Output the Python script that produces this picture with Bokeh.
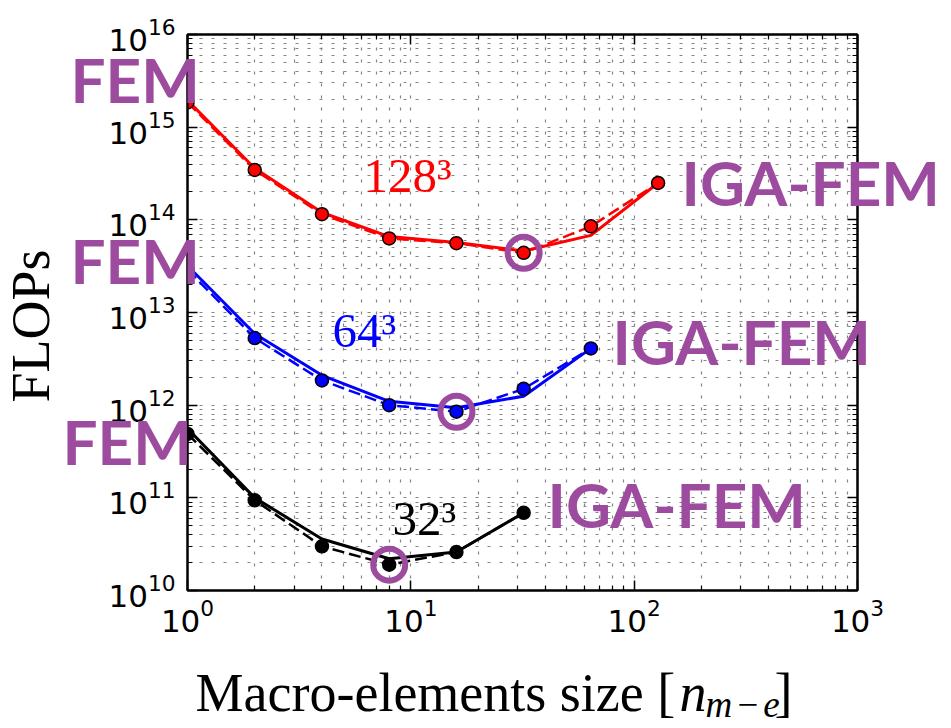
import math
from bokeh.plotting import figure
from bokeh.models import Label, LogAxis, FixedTicker, ColumnDataSource, Range1d, GridBox
from bokeh.embed import file_html
from bokeh.resources import INLINE

# ---------------- data ----------------
n_red = [1, 2, 4, 8, 16, 32, 64, 128]
red_solid = [1.95e15, 3.6e14, 1.2e14, 6.6e13, 5.7e13, 4.6e13, 6.8e13, 2.5e14]
red_dashed = [1.85e15, 3.45e14, 1.15e14, 6.3e13, 5.6e13, 4.4e13, 8.5e13, 2.5e14]

n_blue = [1, 2, 4, 8, 16, 32, 64]
blue_solid = [3.2e13, 5.9e12, 2.1e12, 1.1e12, 9.4e11, 1.25e12, 4.1e12]
blue_dashed = [2.9e13, 5.3e12, 1.85e12, 1.0e12, 8.5e11, 1.5e12, 4.1e12]

n_black = [1, 2, 4, 8, 16, 32]
black_solid = [5.6e11, 1.0e11, 3.6e10, 2.2e10, 2.6e10, 6.9e10]
black_dashed = [4.9e11, 9.4e10, 3.0e10, 1.9e10, 2.6e10, 6.9e10]

# optimum (circled) points
opt_n = [32, 16, 8]
opt_flops = [4.4e13, 8.5e11, 1.9e10]

curve_labels = ["128³", "64³", "32³"]
left_labels = ["FEM", "FEM", "FEM"]
right_labels = ["IGA-FEM", "IGA-FEM", "IGA-FEM"]

x_major = [1, 10, 100, 1000]
x_minor = [k * 10 ** e for e in range(0, 3) for k in range(2, 10)]
y_major = [1e10, 1e11, 1e12, 1e13, 1e14, 1e15, 1e16]
y_minor = [k * 10.0 ** e for e in range(10, 16) for k in range(2, 10)]

# ---------------- styling ----------------
PURPLE = "#9d4b9f"
SERIF = "Liberation Serif"
W, H = 943, 726
FL, FT = 187, 34           # frame left / top in canvas px
FW, FH = 670, 556          # frame size

p = figure(width=W, height=H, x_axis_type="log", y_axis_type="log",
           x_range=(1, 1000), y_range=(1e10, 1e16),
           output_backend="svg", toolbar_location=None,
           min_border_left=FL, min_border_top=FT,
           min_border_right=W - FL - FW, min_border_bottom=H - FT - FH)
p.background_fill_color = "white"
p.border_fill_color = "white"
p.outline_line_color = "black"
p.outline_line_width = 2

xt = FixedTicker(ticks=x_major, minor_ticks=x_minor)
yt = FixedTicker(ticks=y_major, minor_ticks=y_minor)

def style_axis(ax, ticker, labels=True):
    ax.ticker = ticker
    ax.axis_line_width = 2
    ax.axis_line_color = "black"
    ax.major_tick_in = 10
    ax.major_tick_out = 0
    ax.minor_tick_in = 5
    ax.minor_tick_out = 0
    ax.major_tick_line_width = 1.5
    ax.minor_tick_line_width = 1.2
    if labels:
        ax.major_label_text_font = "DejaVu Sans"
        ax.major_label_text_font_size = "31px"
        ax.major_label_text_color = "black"
    else:
        ax.major_label_text_font_size = "0px"
        ax.major_label_text_color = None

bottom = p.below[0]
left = p.left[0]
style_axis(bottom, xt)
style_axis(left, yt)
bottom.major_label_standoff = 8
left.major_label_standoff = 12

top = LogAxis()
right = LogAxis()
style_axis(top, xt, labels=False)
style_axis(right, yt, labels=False)
p.add_layout(top, "above")
p.add_layout(right, "right")

for g, t in ((p.xgrid[0], xt), (p.ygrid[0], yt)):
    g.ticker = t
    g.grid_line_color = "#858585"
    g.grid_line_dash = "3 9"
    g.grid_line_width = 1.2
    g.minor_grid_line_color = "#858585"
    g.minor_grid_line_dash = "3 9"
    g.minor_grid_line_width = 1.2

# ---------------- curves ----------------
series = [
    (n_red, red_solid, red_dashed, "red"),
    (n_blue, blue_solid, blue_dashed, "blue"),
    (n_black, black_solid, black_dashed, "black"),
]
for n, solid, dashed, col in series:
    src = ColumnDataSource(dict(n=n, solid=solid, dashed=dashed))
    p.line("n", "dashed", source=src, line_color=col, line_width=2.5, line_dash="12 5")
    p.line("n", "solid", source=src, line_color=col, line_width=3)
    p.scatter("n", "dashed", source=src, size=13, fill_color=col,
              line_color="black", line_width=1.5)

p.scatter(opt_n, opt_flops, size=32, fill_color=None,
          line_color=PURPLE, line_width=6)

# ---------------- transparent overlay for texts outside the frame ----------------
ov = figure(width=W, height=H, x_range=Range1d(0, W), y_range=Range1d(H, 0),
            output_backend="svg", toolbar_location=None,
            x_axis_location=None, y_axis_location=None,
            min_border_left=0, min_border_right=0, min_border_top=0, min_border_bottom=0)
ov.background_fill_color = None
ov.border_fill_color = None
ov.outline_line_color = None
ov.grid.visible = False
for fig in (p, ov):
    if "frame_align" in fig.properties():
        fig.frame_align = False

def lab(px, py, text, shift, rotated=False, **kw):
    # shift: empirical distance between the label anchor and the glyph baseline
    base = dict(text_align="left", text_baseline="alphabetic")
    base.update(kw)
    if rotated:
        ov.add_layout(Label(x=px - shift, y=py, text=text, angle=math.pi / 2, **base))
    else:
        ov.add_layout(Label(x=px, y=py - shift, text=text, **base))

curve_cols = ["red", "blue", "black"]
curve_pos = [(363, 192), (332, 347), (392, 535)]
for txt, col, (px, py) in zip(curve_labels, curve_cols, curve_pos):
    lab(px, py, txt, 17, text_color=col, text_font=SERIF, text_font_size="49px")

left_pos = [(70, 105), (70, 286), (62, 467)]
for txt, (px, py) in zip(left_labels, left_pos):
    lab(px, py, txt, 27, text_color=PURPLE, text_font="Lato",
        text_font_style="bold", text_font_size="62px")

right_pos = [(681, 208), (612, 367), (547, 530)]
for txt, (px, py) in zip(right_labels, right_pos):
    lab(px, py, txt, 27, text_color=PURPLE, text_font="Lato",
        text_font_style="bold", text_font_size="62px")

# y axis title
lab(51, 402, "FLOPs", 21, rotated=True, text_font=SERIF,
    text_font_size="54px", text_color="black")

# x axis title: Macro-elements size [n_{m-e}]
lab(195, 711, "Macro-elements size [", 19, text_font=SERIF,
    text_font_size="54px", text_color="black")
lab(679, 711, "n", 19, text_font=SERIF, text_font_style="italic",
    text_font_size="54px", text_color="black")
lab(705, 717, "m\u200a\u2212\u200ae", 13, text_font=SERIF, text_font_style="italic",
    text_font_size="37px", text_color="black")
lab(774, 711, "]", 19, text_font=SERIF, text_font_size="54px", text_color="black")

layout = GridBox(children=[(p, 0, 0), (ov, 0, 0)])

open("out.html", "w").write(file_html(layout, INLINE))
